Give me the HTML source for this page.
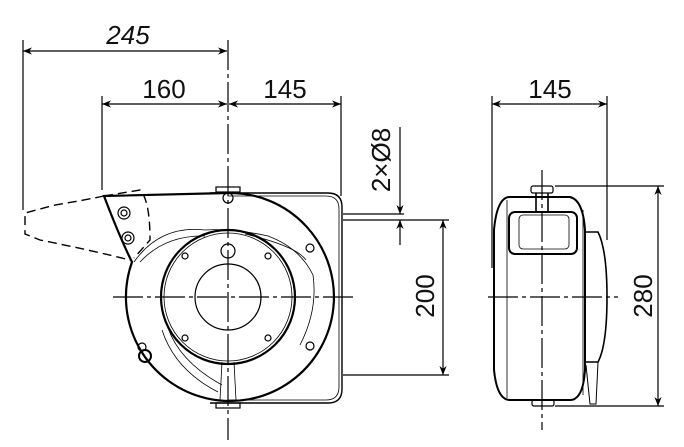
<!DOCTYPE html>
<html><head><meta charset="utf-8"><style>html,body{margin:0;padding:0;background:#fff}svg{display:block}</style></head><body>
<svg width="684" height="447" viewBox="0 0 684 447" xmlns="http://www.w3.org/2000/svg">
<defs>
<marker id="a" viewBox="0 0 10 10" refX="10" refY="5" markerWidth="9" markerHeight="9" orient="auto-start-reverse" markerUnits="userSpaceOnUse"><path d="M0,1 L10,5 L0,9 L3,5 Z" fill="#000"/></marker>
</defs>
<g font-family="Liberation Sans, sans-serif" font-size="26" fill="#111" text-anchor="middle">
<text x="128" y="44" font-style="italic">245</text>
<text x="164" y="98">160</text>
<text x="285" y="98">145</text>
<text x="550" y="98">145</text>
<text transform="translate(390,160) rotate(-90)">2×Ø8</text>
<text transform="translate(434,296) rotate(-90)">200</text>
<text transform="translate(652,296) rotate(-90)">280</text>
</g>
<g stroke="#000" stroke-width="1.2" fill="none">
<!-- dims -->
<line x1="23" y1="40" x2="23" y2="210"/>
<line x1="23" y1="51" x2="227" y2="51" marker-start="url(#a)" marker-end="url(#a)"/>
<line x1="102" y1="96" x2="102" y2="190"/>
<line x1="102" y1="104" x2="227" y2="104" marker-start="url(#a)" marker-end="url(#a)"/>
<line x1="229" y1="104" x2="341" y2="104" marker-start="url(#a)" marker-end="url(#a)"/>
<line x1="341" y1="96" x2="341" y2="196"/>
<line x1="400" y1="127" x2="400" y2="214" marker-end="url(#a)"/>
<line x1="400" y1="245" x2="400" y2="220" marker-end="url(#a)"/>
<line x1="343" y1="214" x2="404" y2="214"/>
<line x1="343" y1="220" x2="449" y2="220"/>
<line x1="443" y1="220" x2="443" y2="375" marker-start="url(#a)" marker-end="url(#a)"/>
<line x1="343" y1="375" x2="449" y2="375"/>
<line x1="492" y1="96" x2="492" y2="268"/>
<line x1="607" y1="96" x2="607" y2="240"/>
<line x1="492" y1="104" x2="607" y2="104" marker-start="url(#a)" marker-end="url(#a)"/>
<line x1="555" y1="186" x2="664" y2="186"/>
<line x1="555" y1="406" x2="664" y2="406"/>
<line x1="658" y1="186" x2="658" y2="406" marker-start="url(#a)" marker-end="url(#a)"/>
<!-- center lines -->
<line x1="228" y1="40" x2="228" y2="440" stroke-dasharray="30,4,4,4"/>
<line x1="113" y1="297" x2="355" y2="297" stroke-dasharray="30,4,4,4"/>
<line x1="542" y1="170" x2="542" y2="430" stroke-dasharray="30,4,4,4"/>
<line x1="488" y1="297" x2="618" y2="297" stroke-dasharray="30,4,4,4"/>
<!-- left view box -->
<path d="M210 193 H328 Q342 193 342 207 V389 Q342 403 328 403 H210" stroke-width="1.4"/>
<path d="M228 196 H326 Q339 196 339 209 V387 Q339 400 326 400 H228" stroke-width="0.8"/>
<rect x="216" y="187" width="24" height="5"/>
<rect x="216" y="403" width="24" height="5"/>
<circle cx="228" cy="198" r="5"/>
<!-- housing -->
<path d="M104 196 L228 193 A104 104 0 1 1 132 262 Q120 238 104 196 Z" stroke-width="2.2"/>
<circle cx="228" cy="297" r="67" stroke-width="2.2"/>
<circle cx="228" cy="297" r="64" stroke-width="0.8"/>
<circle cx="228" cy="297" r="33"/>
<circle cx="228" cy="251" r="7"/>
<circle cx="185" cy="256" r="3"/><circle cx="268" cy="256" r="3"/>
<circle cx="185" cy="338" r="3"/><circle cx="268" cy="338" r="3"/>
<circle cx="310" cy="248" r="4"/><circle cx="310" cy="346" r="4"/>
<circle cx="145" cy="356" r="6" stroke-width="2"/>
<circle cx="142" cy="347" r="4"/>
<path d="M134 262 Q160 225 205 230 Q232 228 268 236 Q300 248 313 275 Q318 310 300 345" stroke-width="0.8"/>
<path d="M140 262 Q165 235 205 236 M245 234 Q296 246 306 260" stroke-width="0.8"/>
<path d="M162 330 Q175 370 218 392 M168 328 Q180 362 222 385" stroke-width="0.8"/>
<path d="M222 362 L220 400 M234 362 L236 400" stroke-width="0.8"/>
<circle cx="124" cy="213" r="6"/><circle cx="124" cy="213" r="3"/>
<circle cx="128" cy="238" r="6"/><circle cx="128" cy="238" r="3"/>
<!-- dashed handle -->
<path d="M104 196 Q85 200 55 205 L25 213 V234 L40 240 Q90 250 130 260 M104 196 L140 190 Q150 200 150 240 L134 258" stroke-dasharray="9,5" stroke-width="1.4"/>
<!-- right view -->
<path d="M510 197 H570 Q583 200 585 230 V370 Q583 400 570 400 H510 Q497 400 494 370 V230 Q497 197 510 197 Z" stroke-width="2"/>
<path d="M507 200 V398 M583 210 V395" stroke-width="0.8"/>
<path d="M585 232 H598 Q607 250 607 297 Q607 345 598 362 H585" stroke-width="1.6"/>
<path d="M586 365 L590 404 L596 404 L598 362" stroke-width="1"/>
<rect x="531" y="186" width="22" height="7" rx="2"/>
<rect x="532" y="400" width="22" height="6" rx="2"/>
<path d="M536 193 V212 M548 193 V212" stroke-width="1.6"/>
<rect x="509" y="212" width="68" height="42" rx="6" stroke-width="2"/>
<rect x="519" y="215" width="50" height="34" rx="4" stroke-width="0.8"/>
</g>
</svg>
</body></html>
